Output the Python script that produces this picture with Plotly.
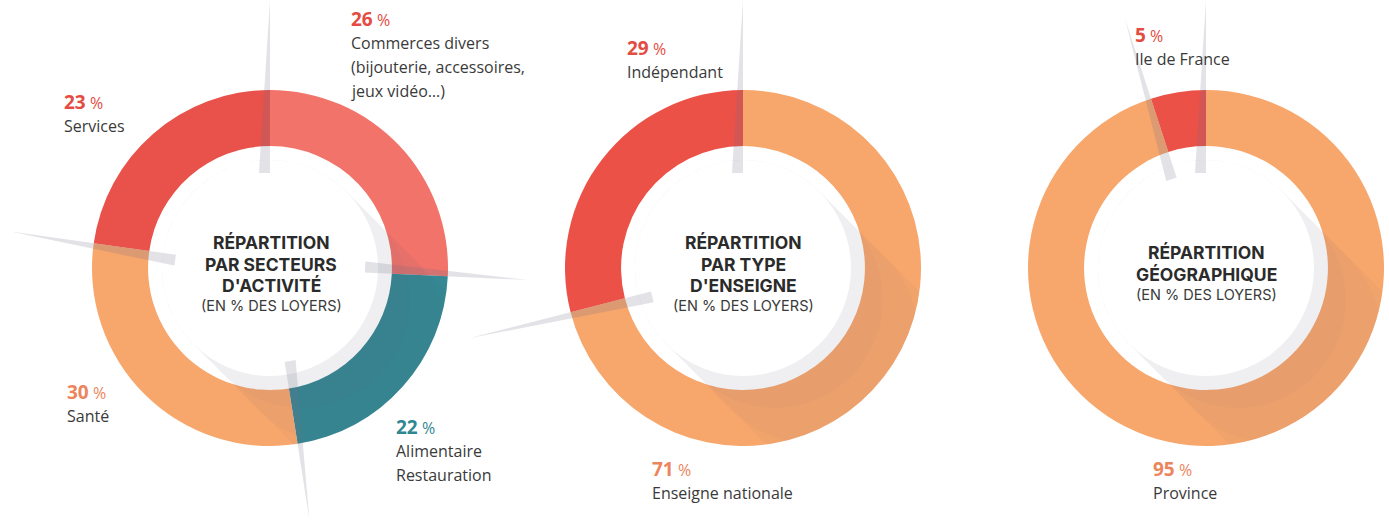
import math
import plotly.graph_objects as go

W, H = 1389, 524

# ---------------- data ----------------
sect_labels = ["Commerces divers", "Alimentaire Restauration", "Santé", "Services"]
sect_values = [26, 22, 30, 23]
sect_colors = ["#F1736A", "#358894", "#F7A66C", "#E8524A"]

type_labels = ["Enseigne nationale", "Indépendant"]
type_values = [71, 29]
type_colors = ["#F7A66C", "#EC5148"]

geo_labels = ["Province", "Ile de France"]
geo_values = [95, 5]
geo_colors = ["#F7A66C", "#EC5148"]

# ---------------- layout constants ----------------
R = 178
HOLE = 0.685
RW = 108  # white centre disc radius
centers = [(270, 268), (743, 268), (1206, 268)]

fig = go.Figure()

def dom(cx, cy):
    return dict(x=[(cx - R) / W, (cx + R) / W], y=[(H - cy - R) / H, (H - cy + R) / H])

for (labels, values, colors), (cx, cy) in zip(
    [(sect_labels, sect_values, sect_colors),
     (type_labels, type_values, type_colors),
     (geo_labels, geo_values, geo_colors)], centers):
    fig.add_trace(go.Pie(
        labels=labels, values=values, sort=False, direction="clockwise", rotation=0,
        hole=HOLE, textinfo="none", hoverinfo="label+percent",
        marker=dict(colors=colors, line=dict(width=0)),
        domain=dom(cx, cy), showlegend=False,
    ))

# invisible pixel axes for shapes / annotations
fig.add_trace(go.Scatter(x=[0, W], y=[0, H], mode="markers", marker=dict(opacity=0),
                         hoverinfo="skip", showlegend=False))

shapes = []

def poly_path(pts):
    return "M " + " L ".join(f"{x:.1f} {y:.1f}" for x, y in pts) + " Z"

def circle_pts(cx, cy, r, a0, a1, n):
    return [(cx + r * math.cos(math.radians(a0 + (a1 - a0) * i / n)),
             cy + r * math.sin(math.radians(a0 + (a1 - a0) * i / n))) for i in range(n + 1)]

def clip(subject, clipper):
    def inside(p, a, b):
        return (b[0] - a[0]) * (p[1] - a[1]) - (b[1] - a[1]) * (p[0] - a[0]) >= 0
    def inter(p, q, a, b):
        x1, y1 = p; x2, y2 = q; x3, y3 = a; x4, y4 = b
        den = (x1 - x2) * (y3 - y4) - (y1 - y2) * (x3 - x4)
        t = ((x1 - x3) * (y3 - y4) - (y1 - y3) * (x3 - x4)) / den
        return (x1 + t * (x2 - x1), y1 + t * (y2 - y1))
    out = subject
    for i in range(len(clipper)):
        a, b = clipper[i - 1], clipper[i]
        inp, out = out, []
        if not inp:
            break
        s = inp[-1]
        for e in inp:
            if inside(e, a, b):
                if not inside(s, a, b):
                    out.append(inter(s, e, a, b))
                out.append(e)
            elif inside(s, a, b):
                out.append(inter(s, e, a, b))
            s = e
    return out

def long_shadow(cx, cy, alphas):
    outer = circle_pts(cx, cy, R, 0, 360, 180)[:-1]
    # layered capsules of decreasing length -> soft fade away from the disc
    for L, a in alphas:
        dx = dy = L / math.sqrt(2)
        capsule = circle_pts(cx, cy, RW, 135, 315, 60) + circle_pts(cx + dx, cy + dy, RW, 315, 495, 60)
        res = clip(capsule, outer)
        if not res:
            res = clip(capsule, outer[::-1])
        shapes.append(dict(type="path", path=poly_path(res), xref="x", yref="y",
                           line=dict(width=0), fillcolor=f"rgba(95,95,120,{a})", layer="above"))
    shapes.append(dict(type="circle", xref="x", yref="y", x0=cx - RW, x1=cx + RW,
                       y0=cy - RW, y1=cy + RW, fillcolor="white", line=dict(width=0),
                       layer="above"))

for c in centers:
    long_shadow(*c, [(2 * R, 0.035), (95, 0.03), (45, 0.03)])

def ray(cx, cy, theta_deg, r0, r1, w, side=-1):
    t = math.radians(theta_deg)
    d = (math.sin(t), -math.cos(t))
    n = (-d[1] * side, d[0] * side)
    p0 = (cx + d[0] * r0, cy + d[1] * r0)
    p1 = (p0[0] + n[0] * w, p0[1] + n[1] * w)
    tip = (cx + d[0] * r1, cy + d[1] * r1)
    shapes.append(dict(type="path", path=poly_path([p0, p1, tip]), xref="x", yref="y",
                       line=dict(width=0), fillcolor="rgba(110,110,135,0.20)", layer="above"))

def boundaries(values):
    tot = sum(values)
    acc, out = 0, [0.0]
    for v in values[:-1]:
        acc += v
        out.append(acc / tot * 360)
    return out

for values, (cx, cy), lens in [
    (sect_values, centers[0], [268, 258, 254, 262]),
    (type_values, centers[1], [268, 282]),
    (geo_values, centers[2], [268, 262]),
]:
    for th, L in zip(boundaries(values), lens):
        ray(cx, cy, th, 95, L, 11)

annotations = []
LAB = "Open Sans"

def label(x, y, pct, col, lines):
    annotations.append(dict(
        x=x, y=y, xref="x", yref="y", xanchor="left", yanchor="middle", showarrow=False,
        text=f"<b>{pct}</b><span style='font-size:16px'> %</span>",
        font=dict(family=LAB, size=19, color=col), align="left"))
    for i, ln in enumerate(lines):
        annotations.append(dict(
            x=x, y=y + 24 * (i + 1), xref="x", yref="y", xanchor="left", yanchor="middle",
            showarrow=False, text=ln, font=dict(family=LAB, size=16, color="#3a3a3a"),
            align="left"))

RED = "#E44C43"
ORG = "#EC855C"
TEAL = "#2F8793"
label(349, 19, sect_values[0], RED, ["Commerces divers", "(bijouterie, accessoires,", "jeux vidéo…)"])
label(62, 102, sect_values[3], RED, ["Services"])
label(65, 392, sect_values[2], ORG, ["Santé"])
label(394, 427, sect_values[1], TEAL, ["Alimentaire", "Restauration"])
label(625, 48, type_values[1], RED, ["Indépendant"])
label(650, 469, type_values[0], ORG, ["Enseigne nationale"])
label(1133, 35, geo_values[1], RED, ["Ile de France"])
label(1151, 469, geo_values[0], ORG, ["Province"])

TF = "Inter"
def center_title(cx, ys, bold_lines, sub):
    for y, t in zip(ys, bold_lines):
        annotations.append(dict(x=cx, y=y, xref="x", yref="y", xanchor="center", yanchor="middle",
                                showarrow=False, text=f"<b>{t}</b>",
                                font=dict(family=TF, size=17.5, color="#2b2b2b")))
    annotations.append(dict(x=cx, y=ys[-1] + 20, xref="x", yref="y", xanchor="center",
                            yanchor="middle", showarrow=False, text=sub,
                            font=dict(family=TF, size=14.5, color="#3a3a3a")))

center_title(271, [242, 264, 285], ["RÉPARTITION", "PAR SECTEURS", "D'ACTIVITÉ"], "(EN % DES LOYERS)")
center_title(743, [242, 264, 285], ["RÉPARTITION", "PAR TYPE", "D'ENSEIGNE"], "(EN % DES LOYERS)")
center_title(1206, [252, 274], ["RÉPARTITION", "GÉOGRAPHIQUE"], "(EN % DES LOYERS)")

fig.update_layout(
    width=W, height=H, margin=dict(l=0, r=0, t=0, b=0),
    paper_bgcolor="white", plot_bgcolor="rgba(0,0,0,0)",
    xaxis=dict(range=[0, W], visible=False, domain=[0, 1], fixedrange=True),
    yaxis=dict(range=[H, 0], visible=False, domain=[0, 1], fixedrange=True),
    shapes=shapes, annotations=annotations, showlegend=False,
)

fig.write_html("out.html", config={"displayModeBar": False},
               post_script="document.body.style.margin='0';document.body.style.overflow='hidden';")
